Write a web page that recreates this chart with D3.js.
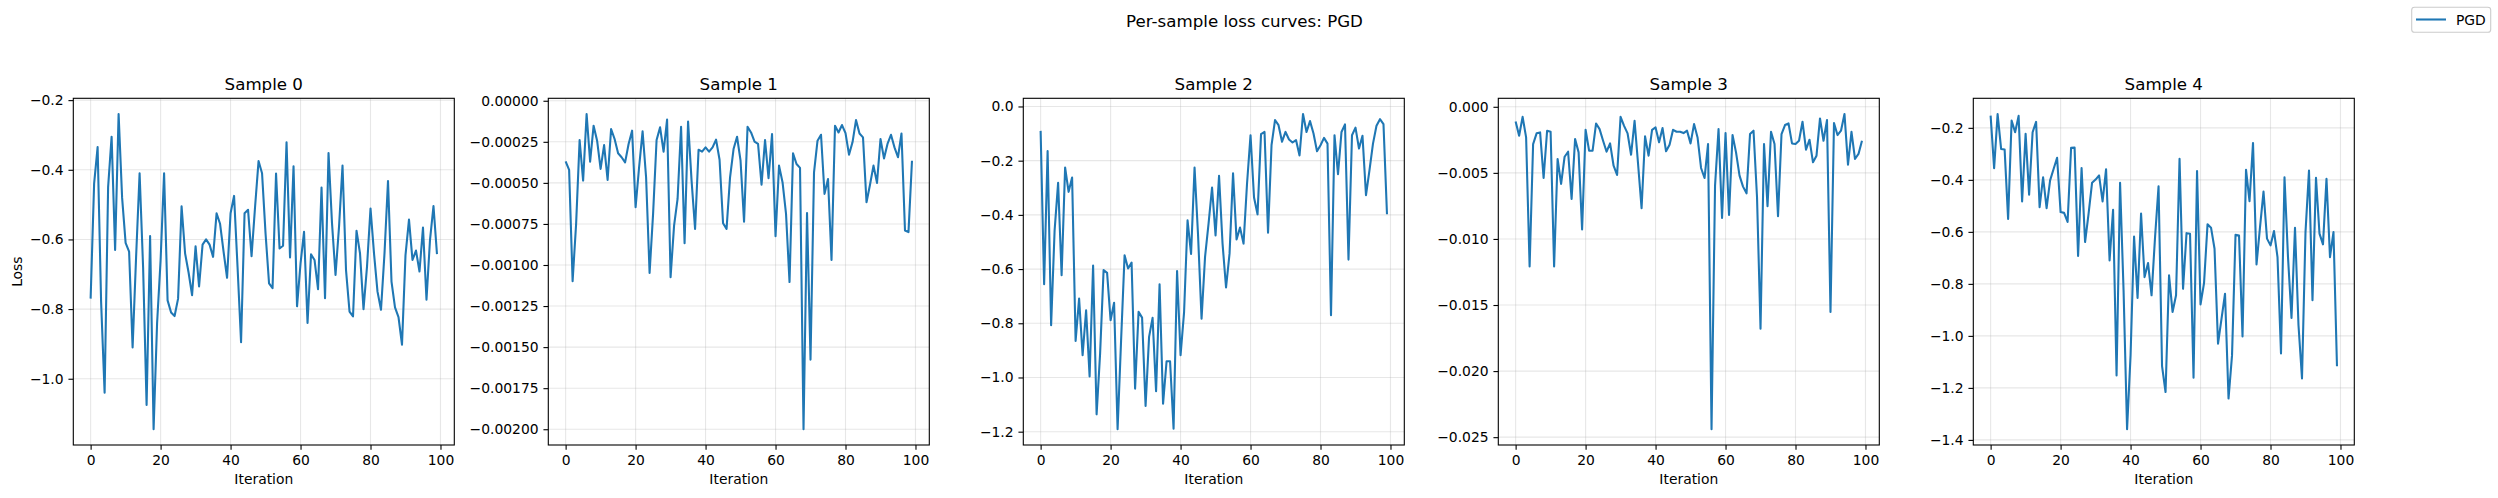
<!DOCTYPE html>
<html>
<head>
<meta charset="utf-8">
<script src="https://cdn.jsdelivr.net/npm/d3@7"></script>
<style>
  html, body { margin: 0; padding: 0; background: #fff; }
  text { font-family: "DejaVu Sans", sans-serif; fill: #000; }
</style>
</head>
<body>
<script>
// ---------------- data ----------------
const iterations = d3.range(100);
const sampleNames = ["Sample 0", "Sample 1", "Sample 2", "Sample 3", "Sample 4"];
const seriesName = "PGD";
const figTitle = "Per-sample loss curves: PGD";

const sample0 = [-0.77,-0.44,-0.335,-0.78,-1.04,-0.45,-0.305,-0.63,-0.24,-0.48,
  -0.61,-0.635,-0.91,-0.65,-0.41,-0.68,-1.075,-0.59,-1.145,-0.84,
  -0.66,-0.41,-0.775,-0.81,-0.82,-0.77,-0.505,-0.64,-0.695,-0.76,
  -0.62,-0.735,-0.615,-0.60,-0.615,-0.65,-0.525,-0.555,-0.635,-0.71,
  -0.525,-0.475,-0.68,-0.895,-0.525,-0.515,-0.648,-0.507,-0.375,-0.41,
  -0.583,-0.726,-0.74,-0.411,-0.626,-0.618,-0.321,-0.652,-0.39,-0.792,
  -0.669,-0.578,-0.84,-0.643,-0.659,-0.743,-0.451,-0.769,-0.352,-0.554,
  -0.702,-0.564,-0.388,-0.688,-0.807,-0.821,-0.575,-0.64,-0.80,-0.678,
  -0.511,-0.64,-0.75,-0.802,-0.64,-0.432,-0.721,-0.795,-0.823,-0.902,
  -0.645,-0.543,-0.659,-0.632,-0.692,-0.566,-0.773,-0.602,-0.504,-0.642];

const sample1 = [-3.69e-4,-4.21e-4,-10.98e-4,-7.5e-4,-2.39e-4,-4.86e-4,-0.81e-4,-3.71e-4,-1.52e-4,-2.43e-4,
  -4.15e-4,-2.70e-4,-4.82e-4,-1.72e-4,-2.33e-4,-3.20e-4,-3.44e-4,-3.75e-4,-2.63e-4,-1.82e-4,
  -6.48e-4,-4.05e-4,-1.86e-4,-4.66e-4,-10.48e-4,-6.89e-4,-2.39e-4,-1.62e-4,-3.10e-4,-1.15e-4,
  -10.74e-4,-7.6e-4,-5.98e-4,-1.58e-4,-8.67e-4,-1.26e-4,-4.86e-4,-7.8e-4,-2.98e-4,-3.10e-4,
  -2.84e-4,-3.10e-4,-2.84e-4,-2.37e-4,-3.59e-4,-7.46e-4,-7.8e-4,-4.66e-4,-2.94e-4,-2.19e-4,
  -3.65e-4,-7.36e-4,-1.58e-4,-1.93e-4,-2.49e-4,-2.63e-4,-5.11e-4,-2.39e-4,-4.72e-4,-2.03e-4,
  -8.25e-4,-3.95e-4,-4.96e-4,-6.89e-4,-11.04e-4,-3.20e-4,-3.85e-4,-4.09e-4,-20.0e-4,-6.83e-4,
  -15.76e-4,-4.36e-4,-2.43e-4,-2.07e-4,-5.67e-4,-4.76e-4,-9.69e-4,-1.52e-4,-1.93e-4,-1.48e-4,
  -1.97e-4,-3.28e-4,-2.53e-4,-1.18e-4,-1.99e-4,-2.23e-4,-6.18e-4,-5.11e-4,-3.95e-4,-5.0e-4,
  -2.33e-4,-3.51e-4,-2.63e-4,-2.07e-4,-2.84e-4,-3.44e-4,-1.99e-4,-7.9e-4,-8.0e-4,-3.65e-4];

const sample2 = [-0.09,-0.656,-0.164,-0.807,-0.457,-0.282,-0.623,-0.225,-0.315,-0.262,
  -0.865,-0.709,-0.918,-0.752,-0.996,-0.587,-1.136,-0.912,-0.604,-0.614,
  -0.789,-0.724,-1.191,-0.863,-0.549,-0.598,-0.576,-1.041,-0.758,-0.779,
  -1.105,-0.850,-0.780,-1.051,-0.656,-1.097,-0.940,-0.940,-1.189,-0.607,
  -0.918,-0.76,-0.42,-0.544,-0.225,-0.475,-0.783,-0.555,-0.432,-0.299,
  -0.476,-0.256,-0.506,-0.668,-0.543,-0.247,-0.491,-0.447,-0.506,-0.284,
  -0.106,-0.336,-0.398,-0.102,-0.094,-0.466,-0.143,-0.050,-0.069,-0.130,
  -0.094,-0.122,-0.133,-0.124,-0.181,-0.028,-0.094,-0.054,-0.100,-0.165,
  -0.143,-0.116,-0.137,-0.770,-0.106,-0.250,-0.094,-0.066,-0.565,-0.106,
  -0.078,-0.155,-0.108,-0.327,-0.235,-0.137,-0.071,-0.047,-0.065,-0.398];

const sample3 = [-1.11e-3,-2.19e-3,-0.76e-3,-2.32e-3,-12.08e-3,-2.82e-3,-2.01e-3,-1.94e-3,-5.39e-3,-1.81e-3,
  -1.89e-3,-12.08e-3,-3.95e-3,-5.84e-3,-3.78e-3,-3.40e-3,-6.97e-3,-2.44e-3,-3.45e-3,-9.29e-3,
  -1.74e-3,-3.32e-3,-3.32e-3,-1.26e-3,-1.69e-3,-2.57e-3,-3.40e-3,-2.77e-3,-4.46e-3,-5.16e-3,
  -0.76e-3,-1.44e-3,-2.01e-3,-3.63e-3,-1.06e-3,-4.33e-3,-7.68e-3,-2.24e-3,-3.70e-3,-1.74e-3,
  -1.56e-3,-2.69e-3,-1.61e-3,-3.37e-3,-2.87e-3,-1.74e-3,-1.89e-3,-1.89e-3,-1.99e-3,-1.81e-3,
  -2.77e-3,-1.31e-3,-2.32e-3,-4.63e-3,-5.39e-3,-2.82e-3,-24.40e-3,-5.97e-3,-1.69e-3,-8.41e-3,
  -1.99e-3,-8.18e-3,-2.14e-3,-3.45e-3,-5.21e-3,-6.04e-3,-6.55e-3,-2.06e-3,-1.81e-3,-6.85e-3,
  -16.79e-3,-2.82e-3,-7.53e-3,-1.89e-3,-2.82e-3,-8.28e-3,-2.06e-3,-1.38e-3,-1.26e-3,-2.77e-3,
  -2.82e-3,-2.57e-3,-1.13e-3,-3.25e-3,-2.49e-3,-4.20e-3,-3.70e-3,-0.88e-3,-2.57e-3,-1.01e-3,
  -15.53e-3,-1.23e-3,-2.14e-3,-1.81e-3,-0.55e-3,-4.38e-3,-1.89e-3,-3.95e-3,-3.57e-3,-2.57e-3];

const sample4 = [-0.153,-0.355,-0.147,-0.281,-0.283,-0.550,-0.172,-0.217,-0.154,-0.483,
  -0.223,-0.457,-0.217,-0.177,-0.505,-0.390,-0.509,-0.402,-0.358,-0.315,
  -0.524,-0.527,-0.562,-0.277,-0.276,-0.693,-0.355,-0.639,-0.530,-0.411,
  -0.399,-0.383,-0.483,-0.359,-0.710,-0.515,-1.152,-0.411,-0.825,-1.359,
  -1.075,-0.618,-0.854,-0.530,-0.774,-0.72,-0.844,-0.620,-0.425,-1.116,
  -1.216,-0.767,-0.908,-0.844,-0.319,-0.819,-0.605,-0.607,-1.161,-0.366,
  -0.879,-0.797,-0.571,-0.584,-0.665,-1.030,-0.934,-0.838,-1.241,-1.075,
  -0.611,-0.614,-1.002,-0.361,-0.482,-0.258,-0.725,-0.582,-0.445,-0.626,
  -0.652,-0.597,-0.697,-1.068,-0.390,-0.697,-0.931,-0.584,-0.959,-1.164,
  -0.601,-0.364,-0.863,-0.392,-0.607,-0.648,-0.396,-0.697,-0.601,-1.117];

const xTicks = [0, 20, 40, 60, 80, 100];
const yTicks0 = [-0.2, -0.4, -0.6, -0.8, -1.0];
const yLabels0 = ["\u22120.2", "\u22120.4", "\u22120.6", "\u22120.8", "\u22121.0"];
const yTicks1 = [0, -0.00025, -0.0005, -0.00075, -0.001, -0.00125, -0.0015, -0.00175, -0.002];
const yLabels1 = ["0.00000", "\u22120.00025", "\u22120.00050", "\u22120.00075", "\u22120.00100", "\u22120.00125", "\u22120.00150", "\u22120.00175", "\u22120.00200"];
const yTicks2 = [0, -0.2, -0.4, -0.6, -0.8, -1.0, -1.2];
const yLabels2 = ["0.0", "\u22120.2", "\u22120.4", "\u22120.6", "\u22120.8", "\u22121.0", "\u22121.2"];
const yTicks3 = [0, -0.005, -0.01, -0.015, -0.02, -0.025];
const yLabels3 = ["0.000", "\u22120.005", "\u22120.010", "\u22120.015", "\u22120.020", "\u22120.025"];
const yTicks4 = [-0.2, -0.4, -0.6, -0.8, -1.0, -1.2, -1.4];
const yLabels4 = ["\u22120.2", "\u22120.4", "\u22120.6", "\u22120.8", "\u22121.0", "\u22121.2", "\u22121.4"];

const samples = [sample0, sample1, sample2, sample3, sample4];
const yTickSets = [yTicks0, yTicks1, yTicks2, yTicks3, yTicks4];
const yLabelSets = [yLabels0, yLabels1, yLabels2, yLabels3, yLabels4];

// ---------------- layout ----------------
const W = 2498, H = 498;
const axLefts = [73.3, 548.3, 1023.3, 1498.3, 1973.3];
const axW = 381, axTop = 98.3, axBottom = 445;
const color = "#1f77b4";
const tickLen = 4.86, tickPad = 4.86;

const svg = d3.select("body").append("svg")
  .attr("width", W).attr("height", H)
  .attr("viewBox", `0 0 ${W} ${H}`);

svg.append("rect").attr("width", W).attr("height", H).attr("fill", "#fff");

svg.append("text")
  .attr("x", 1244.5).attr("y", 27)
  .attr("text-anchor", "middle")
  .style("font-size", "16.67px")
  .text(figTitle);

samples.forEach((data, k) => {
  const L = axLefts[k];
  const x = d3.scaleLinear().domain([-4.95, 103.95]).range([L, L + axW]);
  const mn = d3.min(data), mx = d3.max(data), r = mx - mn;
  const y = d3.scaleLinear().domain([mn - 0.05 * r, mx + 0.05 * r]).range([axBottom, axTop]);
  const g = svg.append("g");

  // grid
  const grid = g.append("g").attr("stroke", "#b0b0b0").attr("stroke-opacity", 0.3).attr("stroke-width", 1.1);
  grid.selectAll("line.gx").data(xTicks).join("line")
    .attr("x1", d => x(d)).attr("x2", d => x(d))
    .attr("y1", axTop).attr("y2", axBottom);
  grid.selectAll("line.gy").data(yTickSets[k]).join("line")
    .attr("x1", L).attr("x2", L + axW)
    .attr("y1", d => y(d)).attr("y2", d => y(d));

  // line
  g.append("path")
    .datum(data)
    .attr("fill", "none")
    .attr("stroke", color)
    .attr("stroke-width", 2.08)
    .attr("stroke-linejoin", "round")
    .attr("stroke-linecap", "butt")
    .attr("d", d3.line().x((d, i) => x(iterations[i])).y(d => y(d)));

  // spines
  g.append("rect")
    .attr("x", L).attr("y", axTop).attr("width", axW).attr("height", axBottom - axTop)
    .attr("fill", "none").attr("stroke", "#000").attr("stroke-width", 1.1);

  // x axis
  const xa = g.append("g").attr("transform", `translate(0,${axBottom})`)
    .call(d3.axisBottom(x).tickValues(xTicks).tickSize(tickLen).tickPadding(tickPad).tickFormat(d3.format("d")));
  // y axis
  const labels = yLabelSets[k];
  const ya = g.append("g").attr("transform", `translate(${L},0)`)
    .call(d3.axisLeft(y).tickValues(yTickSets[k]).tickSize(tickLen).tickPadding(tickPad)
      .tickFormat((d, i) => labels[i]));
  [xa, ya].forEach(a => {
    a.select(".domain").remove();
    a.selectAll(".tick line").attr("stroke", "#000").attr("stroke-width", 1.1);
    a.selectAll(".tick text").attr("fill", "#000")
      .style("font-family", "'DejaVu Sans', sans-serif").style("font-size", "13.89px");
  });

  // title
  g.append("text")
    .attr("x", L + axW / 2).attr("y", 90)
    .attr("text-anchor", "middle")
    .style("font-size", "16.67px")
    .text(sampleNames[k]);

  // x label
  g.append("text")
    .attr("x", L + axW / 2).attr("y", 484)
    .attr("text-anchor", "middle")
    .style("font-size", "13.89px")
    .text("Iteration");

  if (k === 0) {
    g.append("text")
      .attr("transform", `translate(21.5,${(axTop + axBottom) / 2}) rotate(-90)`)
      .attr("text-anchor", "middle")
      .style("font-size", "13.89px")
      .text("Loss");
  }
});

// legend
const lg = svg.append("g");
lg.append("rect")
  .attr("x", 2411.7).attr("y", 7.3).attr("width", 79).attr("height", 25)
  .attr("rx", 2.8).attr("ry", 2.8)
  .attr("fill", "#fff").attr("fill-opacity", 0.8)
  .attr("stroke", "#cccccc").attr("stroke-width", 1.1);
lg.append("line")
  .attr("x1", 2416).attr("x2", 2446).attr("y1", 19.5).attr("y2", 19.5)
  .attr("stroke", color).attr("stroke-width", 2.08);
lg.append("text")
  .attr("x", 2456).attr("y", 24.5)
  .style("font-size", "13.89px")
  .text(seriesName);
</script>
</body>
</html>
